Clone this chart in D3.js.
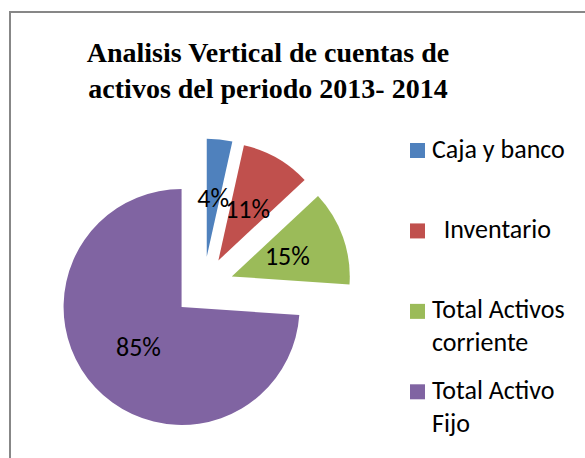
<!DOCTYPE html>
<html>
<head>
<meta charset="utf-8">
<script src="https://cdn.jsdelivr.net/npm/d3@7"></script>
<style>
  html, body { margin: 0; padding: 0; background: #fff; }
</style>
</head>
<body>
<div id="chart"></div>
<script>
// #region Data
const categories = ['Caja y banco', '  Inventario', 'Total Activos corriente', 'Total Activo Fijo'];
const legendLines = [['Caja y banco'], ['  Inventario'], ['Total Activos', 'corriente'], ['Total Activo', 'Fijo']];
const values = [4, 11, 15, 85];
const valueLabels = ['4%', '11%', '15%', '85%'];
const colors = ['#4F81BD', '#C0504D', '#9BBB59', '#8064A2'];
const titleLines = ['Analisis Vertical de cuentas de', 'activos del periodo 2013- 2014'];
// #endregion

// #region Shared variables
const width = 585;
const height = 458;
const center = { x: 203.5, y: 286.5 };
const radius = 118;
const explode = 30;
const labelFont = "Carlito, Calibri, Lato, 'Open Sans', sans-serif";

const svg = d3.select('#chart').append('svg')
  .attr('width', width)
  .attr('height', height);
// #endregion

// #region Frame
svg.append('rect')
  .attr('x', 10)
  .attr('y', 12)
  .attr('width', width + 20)
  .attr('height', height + 20)
  .attr('fill', 'none')
  .attr('stroke', '#878787')
  .attr('stroke-width', 2);
// #endregion

// #region Title
svg.append('text')
  .attr('x', 268)
  .attr('text-anchor', 'middle')
  .style('font-family', "'Liberation Serif', 'Times New Roman', serif")
  .style('font-weight', 'bold')
  .style('font-size', '28px')
  .style('fill', '#000')
  .selectAll('tspan')
  .data(titleLines)
  .enter()
  .append('tspan')
  .attr('x', 268)
  .attr('y', (d, i) => 62 + i * 36)
  .text(d => d);
// #endregion

// #region Pie
const pie = d3.pie().sort(null).value(d => d);
const arcs = pie(values);
const arc = d3.arc().innerRadius(0).outerRadius(radius);

const shift = d => {
  const mid = (d.startAngle + d.endAngle) / 2;
  return [explode * Math.sin(mid), -explode * Math.cos(mid)];
};

const slices = svg.append('g')
  .attr('transform', `translate(${center.x}, ${center.y})`)
  .selectAll('g')
  .data(arcs)
  .enter()
  .append('g')
  .attr('transform', d => `translate(${shift(d)[0]}, ${shift(d)[1]})`);

slices.append('path')
  .attr('d', arc)
  .attr('fill', (d, i) => colors[i]);

slices.append('text')
  .attr('x', d => arc.centroid(d)[0])
  .attr('y', d => arc.centroid(d)[1] + 8.5)
  .attr('text-anchor', 'middle')
  .style('font-family', labelFont)
  .style('font-size', '26px')
  .style('fill', '#000')
  .text((d, i) => valueLabels[i]);
// #endregion

// #region Legend
const legendY = d3.scalePoint()
  .domain(categories)
  .range([150.5, 391.8]);

const legend = svg.append('g')
  .selectAll('g')
  .data(categories)
  .enter()
  .append('g')
  .attr('transform', d => `translate(410, ${legendY(d)})`);

legend.append('rect')
  .attr('x', 0)
  .attr('y', -7.5)
  .attr('width', 15)
  .attr('height', 15)
  .attr('fill', (d, i) => colors[i]);

legend.append('text')
  .attr('xml:space', 'preserve')
  .style('white-space', 'pre')
  .style('font-family', labelFont)
  .style('font-size', '26px')
  .style('fill', '#000')
  .selectAll('tspan')
  .data((d, i) => legendLines[i])
  .enter()
  .append('tspan')
  .attr('x', 22)
  .attr('y', (d, i) => 7 + i * 33)
  .text(d => d);
// #endregion
</script>
</body>
</html>
